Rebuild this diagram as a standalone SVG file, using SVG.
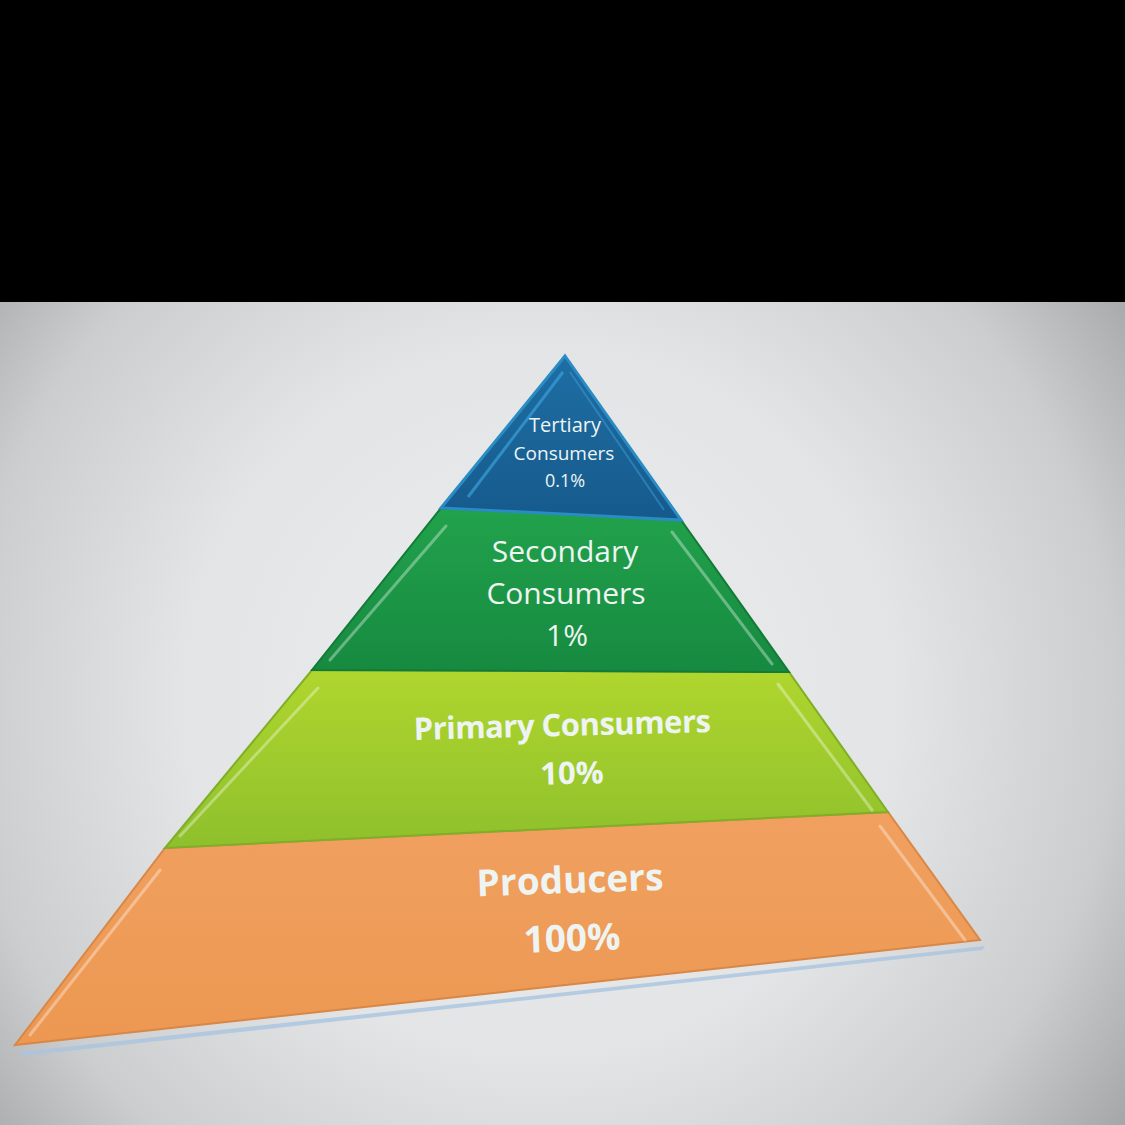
<svg xmlns="http://www.w3.org/2000/svg" width="1125" height="1125" viewBox="0 0 1125 1125">
<defs>
<radialGradient id="bg" cx="540" cy="700" r="720" gradientUnits="userSpaceOnUse">
<stop offset="0" stop-color="#eceeef"/>
<stop offset="0.5" stop-color="#e2e4e5"/>
<stop offset="0.8" stop-color="#cbcdce"/>
<stop offset="1" stop-color="#a6a7a8"/>
</radialGradient>
<linearGradient id="gBlue" x1="0" y1="0" x2="0" y2="1">
<stop offset="0" stop-color="#1e6ea4"/>
<stop offset="1" stop-color="#165a8c"/>
</linearGradient>
<linearGradient id="gGreen" x1="0" y1="0" x2="0" y2="1">
<stop offset="0" stop-color="#22a24c"/>
<stop offset="1" stop-color="#168a40"/>
</linearGradient>
<linearGradient id="gLime" x1="0" y1="0" x2="0" y2="1">
<stop offset="0" stop-color="#b0d62e"/>
<stop offset="1" stop-color="#8ec02c"/>
</linearGradient>
<linearGradient id="gOrange" x1="0" y1="0" x2="0" y2="1">
<stop offset="0" stop-color="#f1a060"/>
<stop offset="1" stop-color="#ec9852"/>
</linearGradient>
</defs>
<style>
.lbl{font-family:"Open Sans","Noto Sans","Liberation Sans",sans-serif;text-anchor:middle;fill:#eef4f2}
.b{font-weight:bold}
.hl{fill:none;stroke:#ffffff;stroke-opacity:0.35;stroke-width:3;stroke-linecap:round}
</style>
<rect x="0" y="0" width="1125" height="1125" fill="url(#bg)"/>
<rect x="0" y="0" width="1125" height="302" fill="#000000"/>

<g id="producers">
<polygon points="20,1052 985,946 982,950 22,1056" fill="#a9c4e0" opacity="0.8"/>
<polygon points="165,848 888,812 980,940 15,1045" fill="url(#gOrange)" stroke="#d98746" stroke-width="2"/>
<polyline class="hl" points="160,870 30,1035"/>
<polyline class="hl" points="880,826 965,940"/>
<text class="lbl b" x="570" y="893" font-size="37" transform="rotate(-2 570 880)">Producers</text>
<text class="lbl b" x="572" y="951" font-size="37" transform="rotate(-2 572 940)">100%</text>
</g>

<g id="primary">
<polygon points="312,670 789,672 888,812 165,848" fill="url(#gLime)" stroke="#7fae27" stroke-width="2"/>
<polyline class="hl" points="318,688 180,836"/>
<polyline class="hl" points="778,684 872,810"/>
<text class="lbl b" x="562" y="736" font-size="31" letter-spacing="-0.5" transform="rotate(-1.5 562 725)">Primary Consumers</text>
<text class="lbl b" x="572" y="784" font-size="31" transform="rotate(-1.5 572 773)">10%</text>
</g>

<g id="secondary">
<polygon points="441,508 681,520 789,672 312,670" fill="url(#gGreen)" stroke="#137a38" stroke-width="2"/>
<polyline class="hl" points="446,526 330,660"/>
<polyline class="hl" points="672,532 772,664"/>
<text class="lbl" x="565" y="562" font-size="30">Secondary</text>
<text class="lbl" x="566" y="604" font-size="30">Consumers</text>
<text class="lbl" x="567" y="646" font-size="30">1%</text>
</g>

<g id="tertiary">
<polygon points="565,356 681,520 441,508" fill="url(#gBlue)" stroke="#2a8cc4" stroke-width="3"/>
<polyline points="563,372 468,497" fill="none" stroke="#3aa0d8" stroke-width="3" stroke-opacity="0.7"/>
<polyline points="570,372 664,510" fill="none" stroke="#3aa0d8" stroke-width="2" stroke-opacity="0.5"/>
<text class="lbl" x="565" y="432" font-size="20" fill="#d6e8f0">Tertiary</text>
<text class="lbl" x="564" y="460" font-size="19" fill="#d6e8f0">Consumers</text>
<text class="lbl" x="565" y="487" font-size="18" fill="#d6e8f0">0.1%</text>
</g>
</svg>
